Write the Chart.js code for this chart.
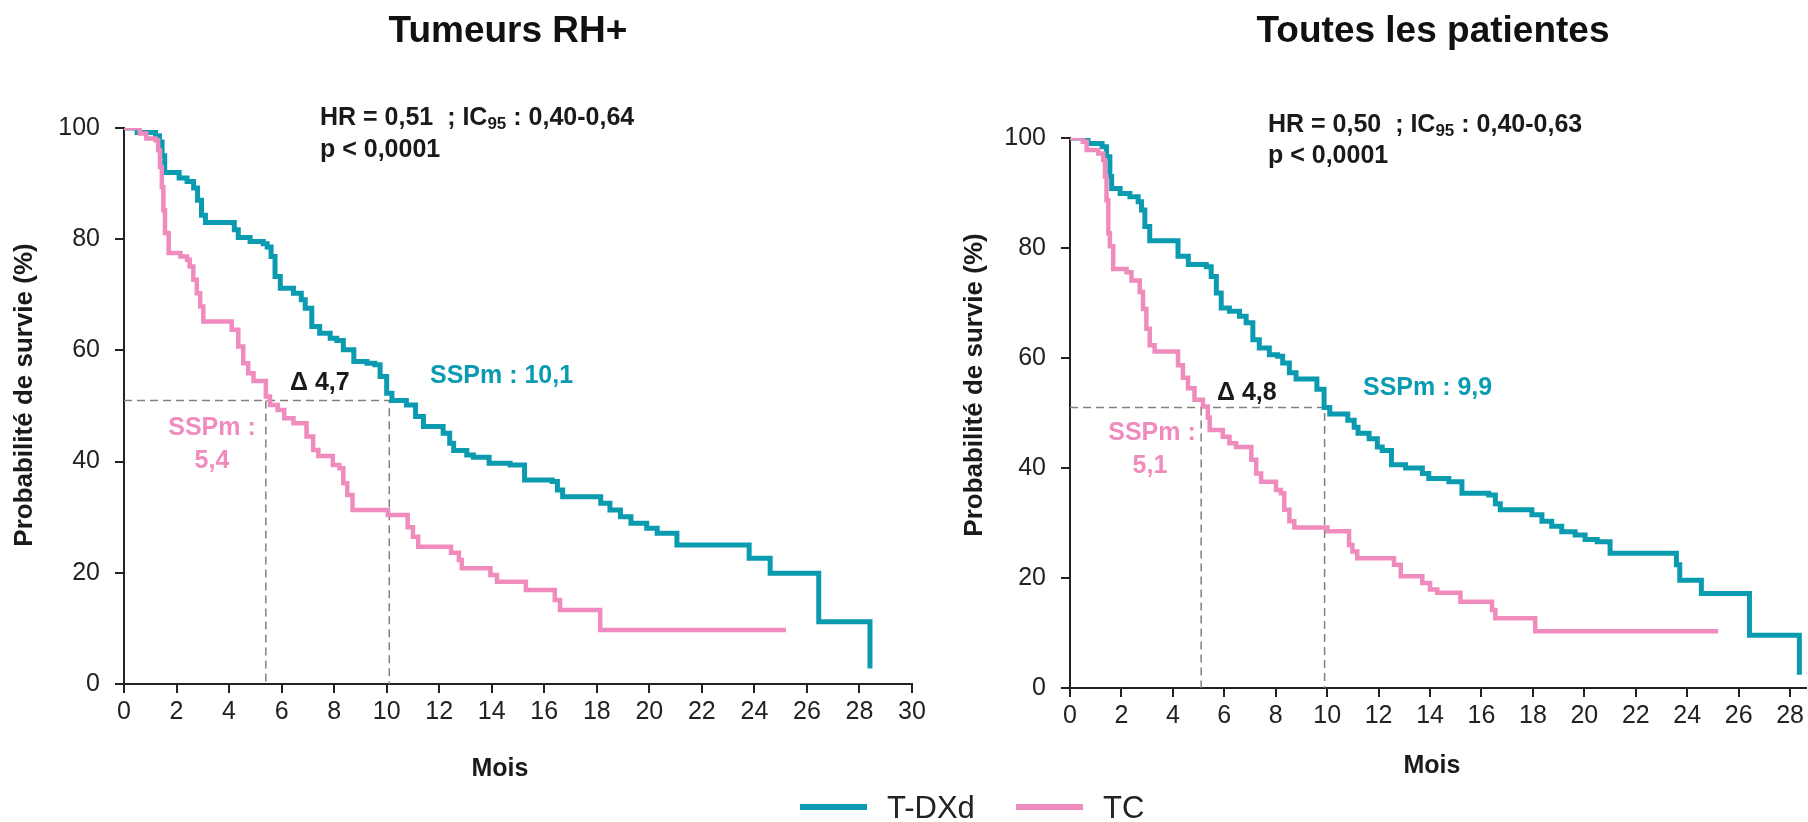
<!DOCTYPE html>
<html>
<head>
<meta charset="utf-8">
<script src="https://cdn.jsdelivr.net/npm/chart.js@4.4.1/dist/chart.umd.min.js"></script>
<style>
  html, body { margin: 0; padding: 0; background: #fff; }
  #wrap { position: relative; width: 1808px; height: 822px; }
  canvas { position: absolute; left: 0; top: 0; }
</style>
</head>
<body>
<div id="wrap">
  <canvas id="chart-rh" width="1808" height="822"></canvas>
  <canvas id="chart-all" width="1808" height="822"></canvas>
</div>
<script>
// --- Tumeurs RH+ ---
var rhTdxdMonths = [0, 0.5, 1.2, 1.35, 1.45, 1.55, 2.1, 2.4, 2.65, 2.8, 2.95, 3.1, 4.2, 4.35, 4.8, 5.3, 5.45, 5.6, 5.75, 5.95,
  6.45, 6.75, 6.9, 7.15, 7.45, 7.85, 8.1, 8.35, 8.75, 9.25, 9.55, 9.75, 10.0, 10.2, 10.75, 11.1, 11.4, 12.15, 12.4, 12.55,
  13.05, 13.3, 13.9, 14.7, 15.25, 16.3, 16.5, 16.7, 18.15, 18.5, 18.9, 19.3, 19.9, 20.3, 21.05, 23.8, 24.6, 26.45, 28.4];
var rhTdxdSurv = [100, 99.2, 98.6, 97.5, 95, 92, 91, 90.4, 89.2, 87, 84.3, 83, 81.7, 80.3, 79.6, 79.2, 78.6, 76.9, 73.3, 71.2,
  70.3, 69.1, 67.6, 64.3, 63.1, 62.2, 61.8, 60.1, 58, 57.7, 57.4, 55.3, 52.3, 51, 50.2, 48.1, 46.3, 45.1, 43.3, 42,
  41.2, 40.8, 39.7, 39.4, 36.7, 36.4, 34.9, 33.7, 32.5, 31.3, 30.1, 28.9, 28, 27.1, 25, 22.6, 19.9, 11.2, 2.8];
var rhTcMonths = [0, 0.6, 0.85, 1.2, 1.3, 1.37, 1.44, 1.5, 1.56, 1.7, 2.15, 2.4, 2.5, 2.64, 2.77, 2.9, 3.02, 4.1, 4.35, 4.54,
  4.73, 4.93, 5.4, 5.56, 5.85, 6.1, 6.45, 6.95, 7.2, 7.4, 7.95, 8.2, 8.35, 8.5, 8.7, 10.05, 10.8, 11.0, 11.2, 12.45,
  12.75, 12.86, 13.95, 14.2, 15.3, 16.4, 16.6, 18.13, 25.2];
var rhTcSurv = [100, 99, 98.1, 97.8, 96, 93, 89.4, 85.2, 81.1, 77.5, 76.9, 76.3, 75.1, 72.7, 70.3, 67.9, 65.2, 63.7, 60.7, 57.7,
  55.9, 54.5, 51.7, 50.2, 49.3, 47.8, 46.9, 44.5, 42.1, 41, 39.4, 38.8, 36.1, 34, 31.3, 30.4, 28.2, 26.5, 24.7, 23.6,
  22.3, 20.8, 19.6, 18.4, 16.9, 15.1, 13.3, 9.7, 9.7];
var rhMedians = [5.4, 10.1];
var rhMedianLevel = 51;

// --- Toutes les patientes ---
var allTdxdMonths = [0, 0.7, 1.25, 1.42, 1.55, 1.62, 1.95, 2.33, 2.65, 2.78, 2.91, 3.1, 4.2, 4.6, 5.3, 5.49, 5.69, 5.88, 6.2, 6.59,
  6.85, 7.11, 7.36, 7.75, 8.07, 8.27, 8.53, 8.79, 9.6, 9.88, 10.1, 10.8, 11.05, 11.2, 11.63, 11.95, 12.14, 12.5, 13.05, 13.7,
  13.95, 14.73, 15.24, 16.28, 16.54, 16.73, 17.96, 18.35, 18.73, 19.12, 19.64, 20.03, 20.5, 21.0, 23.58, 23.71, 24.55, 26.42, 28.36];
var allTdxdSurv = [100, 99, 98.4, 96.6, 93, 90.8, 89.9, 89.3, 88.4, 86.9, 83.9, 81.3, 78.5, 77, 76.6, 74.8, 71.8, 69.1, 68.5, 67.6,
  66.4, 63.3, 61.8, 60.6, 60.3, 59.1, 57.3, 56.2, 54.3, 51, 49.8, 48.7, 47.4, 46.3, 45.3, 43.8, 43.2, 40.6, 40, 39,
  38.1, 37.5, 35.4, 35.1, 33.5, 32.4, 31.5, 30.3, 29.4, 28.4, 27.8, 27, 26.6, 24.5, 22.4, 19.6, 17.2, 9.6, 2.4];
var allTcMonths = [0, 0.5, 0.65, 1.1, 1.29, 1.36, 1.42, 1.49, 1.55, 1.68, 2.2, 2.39, 2.71, 2.84, 2.97, 3.1, 3.29, 4.2, 4.39, 4.59,
  4.84, 5.17, 5.36, 5.43, 5.94, 6.2, 6.46, 7.05, 7.24, 7.43, 8.01, 8.2, 8.33, 8.53, 8.72, 10.01, 10.85, 10.98, 11.17, 12.6,
  12.86, 13.7, 14.0, 14.28, 15.18, 16.41, 16.54, 18.09, 25.2];
var allTcSurv = [100, 99.3, 97.8, 97.2, 96, 93, 88.7, 82.7, 80.3, 76.2, 75.6, 74.1, 72, 68.9, 65.3, 62.3, 61.2, 58.7, 56.4, 54.5,
  52.4, 51.2, 49.2, 46.9, 45.7, 44.5, 43.8, 41.5, 39, 37.5, 36, 35.4, 32.4, 30.3, 29.2, 28.5, 26, 24.8, 23.6, 22.4,
  20.3, 19.1, 17.9, 17.3, 15.7, 14.2, 12.7, 10.3, 10.3];
var allMedians = [5.1, 9.9];
var allMedianLevel = 51;

var seriesNames = ["T-DXd", "TC"];
var yTicks = [0, 20, 40, 60, 80, 100];

var TEAL = "#0a9bb0";
var PINK = "#f08bbd";
var FONT = "'Liberation Sans', Arial, Helvetica, sans-serif";

Chart.defaults.font.family = FONT;
Chart.defaults.color = "#222";

function pts(xs, ys) {
  var out = [];
  for (var i = 0; i < xs.length; i++) out.push({ x: xs[i], y: ys[i] });
  return out;
}

function text(ctx, s, x, y, font, color, align) {
  ctx.save();
  ctx.font = font;
  ctx.fillStyle = color;
  ctx.textAlign = align || "left";
  ctx.textBaseline = "alphabetic";
  ctx.fillText(s, x, y);
  ctx.restore();
}

// "HR = ... ; IC95 : ..." with the 95 as subscript
function hrText(ctx, x, y, before, sub, after) {
  ctx.save();
  ctx.fillStyle = "#1a1a1a";
  ctx.textBaseline = "alphabetic";
  ctx.font = "bold 25px " + FONT;
  ctx.fillText(before, x, y);
  x += ctx.measureText(before).width;
  ctx.font = "bold 17px " + FONT;
  ctx.fillText(sub, x, y + 4);
  x += ctx.measureText(sub).width;
  ctx.font = "bold 25px " + FONT;
  ctx.fillText(after, x, y);
  ctx.restore();
}

function yTitle(ctx, s, cx, cy) {
  ctx.save();
  ctx.translate(cx, cy);
  ctx.rotate(-Math.PI / 2);
  ctx.font = "bold 26px " + FONT;
  ctx.fillStyle = "#1a1a1a";
  ctx.textAlign = "center";
  ctx.textBaseline = "middle";
  ctx.fillText(s, 0, 0);
  ctx.restore();
}

function buildChart(id, cfg) {
  var ctx = document.getElementById(id).getContext("2d");
  return new Chart(ctx, {
    type: "line",
    data: {
      datasets: [
        {
          label: seriesNames[0],
          data: pts(cfg.tdxdX, cfg.tdxdY),
          borderColor: TEAL,
          borderWidth: 5,
          stepped: "before",
          pointRadius: 0,
          fill: false,
          borderJoinStyle: "miter",
          order: 2,
        },
        {
          label: seriesNames[1],
          data: pts(cfg.tcX, cfg.tcY),
          borderColor: PINK,
          borderWidth: 4.5,
          stepped: "before",
          pointRadius: 0,
          fill: false,
          borderJoinStyle: "miter",
          order: 1,
        },
        {
          label: "median-h",
          data: [{ x: 0, y: cfg.level }, { x: cfg.medians[1], y: cfg.level }, { x: cfg.medians[1], y: 0 }],
          borderColor: "#808080",
          borderWidth: 1.5,
          borderDash: [8, 5],
          pointRadius: 0,
          fill: false,
          order: 3,
        },
        {
          label: "median-v",
          data: [{ x: cfg.medians[0], y: cfg.level }, { x: cfg.medians[0], y: 0 }],
          borderColor: "#808080",
          borderWidth: 1.5,
          borderDash: [8, 5],
          pointRadius: 0,
          fill: false,
          order: 3,
        },
      ],
    },
    options: {
      responsive: false,
      animation: false,
      devicePixelRatio: 1,
      layout: { padding: cfg.padding },
      plugins: {
        legend: { display: false },
        tooltip: { enabled: false },
      },
      scales: {
        x: {
          type: "linear",
          min: 0,
          max: cfg.xMax,
          border: { display: true, color: "#222", width: 2 },
          grid: { display: true, drawOnChartArea: false, drawTicks: true, tickLength: 9, color: "#222", lineWidth: 2 },
          ticks: { stepSize: 2, includeBounds: false, font: { size: 25 }, color: "#222", padding: 4, maxRotation: 0, autoSkip: false },
          afterFit: function (s) { s.height = 40; },
        },
        y: {
          type: "linear",
          min: 0,
          max: 100,
          border: { display: true, color: "#222", width: 2 },
          grid: { display: true, drawOnChartArea: false, drawTicks: true, tickLength: 9, color: "#222", lineWidth: 2 },
          ticks: { stepSize: 20, font: { size: 25 }, color: "#222", padding: 15 },
          afterBuildTicks: function (s) { s.ticks = yTicks.map(function (v) { return { value: v }; }); },
          afterFit: function (s) { s.width = cfg.yWidth; },
        },
      },
    },
    plugins: [{ id: "texts", afterDraw: function (c) { cfg.draw(c.ctx); } }],
  });
}

buildChart("chart-rh", {
  tdxdX: rhTdxdMonths, tdxdY: rhTdxdSurv, tcX: rhTcMonths, tcY: rhTcSurv,
  medians: rhMedians, level: rhMedianLevel, xMax: 30,
  padding: { left: 0, top: 128, right: 896, bottom: 98 },
  yWidth: 124,
  draw: function (ctx) {
    text(ctx, "Tumeurs RH+", 508, 42, "bold 37px " + FONT, "#111", "center");
    hrText(ctx, 320, 125, "HR = 0,51  ; IC", "95", " : 0,40-0,64");
    text(ctx, "p < 0,0001", 320, 157, "bold 25px " + FONT, "#1a1a1a");
    text(ctx, "\u0394 4,7", 290, 390, "bold 25px " + FONT, "#1a1a1a");
    text(ctx, "SSPm : 10,1", 430, 383, "bold 25px " + FONT, TEAL);
    text(ctx, "SSPm :", 212, 435, "bold 25px " + FONT, PINK, "center");
    text(ctx, "5,4", 212, 468, "bold 25px " + FONT, PINK, "center");
    yTitle(ctx, "Probabilit\u00e9 de survie (%)", 25, 395);
    text(ctx, "Mois", 500, 776, "bold 25px " + FONT, "#1a1a1a", "center");
    // legend
    ctx.save();
    ctx.lineWidth = 6;
    ctx.strokeStyle = TEAL;
    ctx.beginPath(); ctx.moveTo(800, 807); ctx.lineTo(867, 807); ctx.stroke();
    ctx.strokeStyle = PINK;
    ctx.beginPath(); ctx.moveTo(1016, 807); ctx.lineTo(1083, 807); ctx.stroke();
    ctx.restore();
    text(ctx, seriesNames[0], 887, 818, "31px " + FONT, "#222");
    text(ctx, seriesNames[1], 1103, 818, "31px " + FONT, "#222");
  },
});

buildChart("chart-all", {
  tdxdX: allTdxdMonths, tdxdY: allTdxdSurv, tcX: allTcMonths, tcY: allTcSurv,
  medians: allMedians, level: allMedianLevel, xMax: 28.6,
  padding: { left: 950, top: 138, right: 0, bottom: 94 },
  yWidth: 120,
  draw: function (ctx) {
    text(ctx, "Toutes les patientes", 1433, 42, "bold 37px " + FONT, "#111", "center");
    hrText(ctx, 1268, 132, "HR = 0,50  ; IC", "95", " : 0,40-0,63");
    text(ctx, "p < 0,0001", 1268, 163, "bold 25px " + FONT, "#1a1a1a");
    text(ctx, "\u0394 4,8", 1217, 400, "bold 25px " + FONT, "#1a1a1a");
    text(ctx, "SSPm : 9,9", 1363, 395, "bold 25px " + FONT, TEAL);
    text(ctx, "SSPm :", 1152, 440, "bold 25px " + FONT, PINK, "center");
    text(ctx, "5,1", 1150, 473, "bold 25px " + FONT, PINK, "center");
    yTitle(ctx, "Probabilit\u00e9 de survie (%)", 975, 385);
    text(ctx, "Mois", 1432, 773, "bold 25px " + FONT, "#1a1a1a", "center");
  },
});
</script>
</body>
</html>
